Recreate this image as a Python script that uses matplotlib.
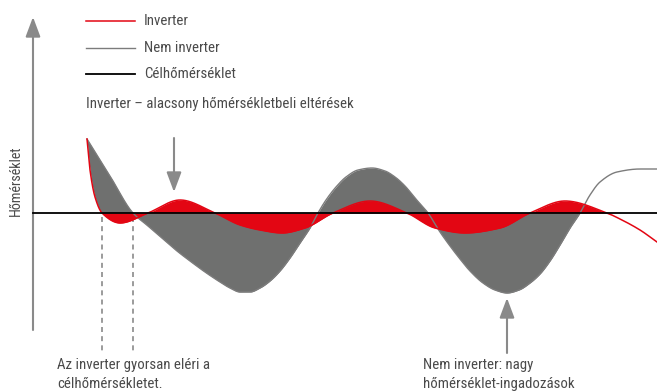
import numpy as np
import matplotlib.pyplot as plt
from matplotlib import font_manager as fm
from matplotlib.lines import Line2D

# prefer a narrow sans face if one is installed
available = {f.name for f in fm.fontManager.ttflist}
family = 'Liberation Sans'
for cand in ['Liberation Sans Narrow', 'Roboto Condensed', 'Open Sans Condensed',
             'Arial Narrow', 'DejaVu Sans Condensed']:
    if cand in available:
        family = cand
        break
plt.rcParams['font.family'] = [family, 'DejaVu Sans']

# time (arbitrary units) and deviation from the set point
t_inv = [87, 90, 95, 102, 120, 148, 180, 215, 240, 260, 282, 305, 333, 370,
         407, 435, 465, 500, 530, 565, 607, 620, 640, 657]
dev_inv = [74, 43, 16, 0, -10, 0, 13, 0, -12, -17, -20, -15, 0, 12,
           0, -15, -20, -15, 0, 12, 0, -6, -17, -29]

t_non = [87, 110, 133, 148, 163, 177, 190, 205, 220, 230, 240, 250, 260, 270,
         280, 290, 300, 310, 318, 326, 336, 346, 358, 372, 385, 395, 405, 415,
         428, 440, 450, 460, 470, 483, 495, 507, 519, 530, 540, 550, 560, 570,
         580, 590, 600, 617, 640, 657]
dev_non = [74, 37, 0, -13, -26, -38, -48, -59, -69, -75, -79, -79, -75, -68,
           -58, -45, -30, -15, 0, 13, 26, 36, 43, 45, 42, 36, 27, 15,
           0, -19, -33, -46, -58, -70, -77, -80, -77, -70, -61, -48, -32, -15,
           0, 18, 31, 41, 44, 44]

set_point = 0
inv_settled = 102      # inverter reaches the set point
inv_fill_end = 607
non_fill_end = 580

labels = ['Inverter', 'Nem inverter', 'Célhőmérséklet']
note_top = 'Inverter – alacsony hőmérsékletbeli eltérések'
note_left = ['Az inverter gyorsan eléri a', 'célhőmérsékletet.']
note_right = ['Nem inverter: nagy', 'hőmérséklet-ingadozások']
y_title = 'Hőmérséklet'

RED = '#e30613'
GREY_FILL = '#6f706f'
GREY_LINE = '#7c7c7c'
AXIS = '#8a8a8a'
TEXT = '#4a4a4a'


def smooth(x, y, xs):
    """Monotone cubic (PCHIP) line through the knots, for drawing."""
    x = np.asarray(x, float)
    y = np.asarray(y, float)
    h = np.diff(x)
    d = np.diff(y) / h
    m = np.zeros_like(y)
    m[0], m[-1] = d[0], d[-1]
    for k in range(1, len(x) - 1):
        if d[k - 1] * d[k] > 0:
            w1 = 2 * h[k] + h[k - 1]
            w2 = h[k] + 2 * h[k - 1]
            m[k] = (w1 + w2) / (w1 / d[k - 1] + w2 / d[k])
    i = np.clip(np.searchsorted(x, xs, side='right') - 1, 0, len(x) - 2)
    s = (xs - x[i]) / h[i]
    h00 = 2 * s**3 - 3 * s**2 + 1
    h10 = s**3 - 2 * s**2 + s
    h01 = -2 * s**3 + 3 * s**2
    h11 = s**3 - s**2
    return h00 * y[i] + h10 * h[i] * m[i] + h01 * y[i + 1] + h11 * h[i] * m[i + 1]


fig = plt.figure(figsize=(6.57, 3.92), dpi=100)
ax = fig.add_axes([0, 0, 1, 1])
ax.set_xlim(0, 657)
ax.set_ylim(-179, 213)
ax.axis('off')

x0, y0 = 33, -116  # origin of the hand drawn axes

xs = np.linspace(t_inv[0], t_inv[-1], 2281)
yi = smooth(t_inv, dev_inv, xs)
yn = smooth(t_non, dev_non, xs)

# before the inverter settles the grey band runs down to the red curve
base = np.where(xs < inv_settled, yi, set_point)
ax.fill_between(xs, yn, base, where=xs <= non_fill_end, interpolate=True,
                color=GREY_FILL, lw=0, zorder=2)
ax.fill_between(xs, yi, set_point, where=(xs >= inv_settled) & (xs <= inv_fill_end),
                interpolate=True, color=RED, lw=0, zorder=3)
ax.plot(xs, yn, color=GREY_LINE, lw=1.0, zorder=4)
ax.plot(xs, yi, color=RED, lw=1.1, zorder=5)
ax.axhline(set_point, xmin=x0 / 657, xmax=1, color='black', lw=1.3, zorder=6)

# axes with arrow heads
arrow = dict(arrowstyle='-|>,head_length=1.2,head_width=0.45', mutation_scale=10,
             color=AXIS, lw=1.5, shrinkA=0, shrinkB=0)
ax.annotate('', xy=(x0, 196), xytext=(x0, y0 - 1), arrowprops=arrow)
ax.annotate('', xy=(665, y0), xytext=(x0 - 1, y0), arrowprops=arrow)

# dashed markers where the curves first reach the set point
for tx in (inv_settled, t_non[dev_non.index(0)]):
    ax.plot([tx, tx], [set_point - 4, -140], color=AXIS, lw=1.2,
            ls=(0, (3, 2.5)), zorder=1)

# callout arrows
ax.annotate('', xy=(174, 21), xytext=(174, 75), arrowprops=arrow)
ax.annotate('', xy=(507, -85), xytext=(507, -140), arrowprops=arrow)

# size the text so the long note spans its width
fs = 10.5
probe = ax.text(86, 105, note_top, fontsize=fs, color=TEXT, va='baseline', ha='left')
fig.canvas.draw()
w = probe.get_window_extent().width
fs = fs * 268 / w
probe.set_fontsize(fs)

for lines, tx in ((note_left, 57), (note_right, 423)):
    for line, ty in zip(lines, (-156, -175)):
        ax.text(tx, ty, line, fontsize=fs, color=TEXT, va='baseline', ha='left')

ax.text(16, 32, y_title, fontsize=fs * 0.95, color=TEXT, rotation=90,
        va='center', ha='center')

# key
key_styles = [(RED, 1.1), (GREY_LINE, 1.0), ('black', 1.3)]
for (col, lw), lab, ky in zip(key_styles, labels, (192, 165, 139)):
    ax.add_line(Line2D([86, 135], [ky, ky], color=col, lw=lw))
    ax.text(144, ky - 4, lab, fontsize=fs, color=TEXT, va='baseline', ha='left')

fig.savefig('out.png', dpi=100)
